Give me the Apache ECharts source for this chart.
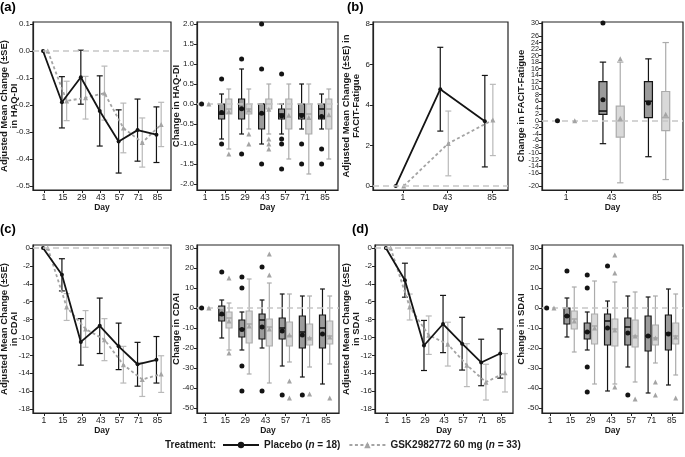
<!DOCTYPE html>
<html><head><meta charset="utf-8">
<script src="https://cdn.jsdelivr.net/npm/echarts@6/dist/echarts.min.js"></script>
<style>html,body{margin:0;padding:0;background:#fff}#c{width:685px;height:457px}</style>
</head><body><div id="c"></div>
<script>
// ---------- categories ----------
const days7 = ['1','15','29','43','57','71','85'];
const days3 = ['1','43','85'];

// ---------- tick labels ----------
const haqLineTicks = [0.1, 0, -0.1, -0.2, -0.3, -0.4, -0.5];
const haqBoxTicks = [2, 1.5, 1, 0.5, 0, -0.5, -1, -1.5, -2];
const facitLineTicks = [0, 2, 4, 6, 8];
const facitBoxTicks = [30,28,26,24,22,20,18,16,14,12,10,8,6,4,2,0,-2,-4,-6,-8,-10,-12,-14,-16,-18,-20];
const daiLineTicks = [0,-2,-4,-6,-8,-10,-12,-14,-16,-18];
const daiBoxTicks = [30,20,10,0,-10,-20,-30,-40,-50];

// ---------- (a) HAQ-DI ----------
const haqPlaceboMean = [0, -0.19, -0.097, -0.222, -0.335, -0.293, -0.31];
const haqPlaceboSE   = [0, 0.095, 0.10, 0.13, 0.117, 0.115, 0.103];
const haqGskMean     = [0, -0.185, -0.173, -0.156, -0.285, -0.339, -0.272];
const haqGskSE       = [0, 0.073, 0.079, 0.10, 0.092, 0.091, 0.082];
// box: [whiskerLow, Q1, median, Q3, whiskerHigh]
const haqBoxPlacebo = [null, [-0.875,-0.375,-0.25,0,0.25], [-0.75,-0.375,-0.125,0.125,0.875], [-1.0,-0.625,-0.25,0,0], [-0.75,-0.375,-0.25,-0.125,0], [-0.625,-0.375,-0.25,0,0.5], [-0.625,-0.375,-0.125,0,0.25]];
const haqBoxMeanPlacebo = [0, -0.21, -0.12, -0.23, -0.30, -0.29, -0.31];
const haqOutPlacebo = [[], [0.625,-1.0], [1.125,-1.25], [2.0,0.875,-1.5], [0.75,-0.875,-1.0,-1.625], [-1.0,-1.5], [-1.125,-1.5]];
const haqBoxGsk = [null, [-1.125,-0.25,-0.125,0.125,0.375], [-0.625,-0.25,-0.125,0,0.375], [-0.75,-0.125,0,0.125,0.5], [-1.375,-0.625,-0.125,0.125,0.5], [-1.75,-0.75,-0.25,0,0.5], [-1.375,-0.625,-0.125,0.125,0.375]];
const haqBoxMeanGsk = [0, -0.19, -0.15, -0.13, -0.28, -0.34, -0.27];
const haqOutGsk = [[], [-1.25], [-0.75,-1.0], [-0.875,-1.0,-1.125], [], [], []];

// ---------- (b) FACIT-Fatigue ----------
const facitPlaceboMean = [0, 4.78, 3.2];
const facitPlaceboSE   = [0, 2.07, 2.26];
const facitGskMean     = [0, 2.1, 3.26];
const facitGskSE       = [0, 1.6, 1.76];
const facitBoxPlacebo = [null, [-7,2,3,12,18], [-11,1,6,12,19]];
const facitBoxMeanPlacebo = [0, 6.5, 5.5];
const facitOutPlacebo = [[], [30], []];
const facitBoxGsk = [null, [-19,-5,0,4.5,18], [-18,-3,1,9,24]];
const facitBoxMeanGsk = [0, 0.8, 2];
const facitOutGsk = [[], [19], []];

// ---------- (c) CDAI ----------
const cdaiPlaceboMean = [0, -3.0, -10.5, -8.7, -11.0, -13.0, -12.5];
const cdaiPlaceboSE   = [0, 1.8, 2.6, 3.1, 2.6, 2.45, 2.6];
const cdaiGskMean     = [0, -6.6, -9.05, -10.25, -13.05, -14.7, -14.1];
const cdaiGskSE       = [0, 1.5, 2.05, 2.35, 2.05, 1.9, 2.05];
const cdaiBoxPlacebo = [null, [-15,-6.5,-3.5,1,4], [-21,-14.5,-10.5,-6,-2], [-20,-15.5,-6,-3,4], [-29,-15.5,-10,-5,7], [-34.5,-20,-12,-4,6], [-38,-20,-10,-3.5,9.5]];
const cdaiBoxMeanPlacebo = [0, -3, -10.8, -9.5, -11.5, -13.5, -13];
const cdaiOutPlacebo = [[], [18], [15.5,10,-29,-41.5], [20.5,-41.5], [-43.5], [-43.5], []];
const cdaiBoxGsk = [null, [-21,-10,-5,-2,2.5], [-33,-17.5,-8,-1.5,14.5], [-37.5,-19,-9.5,-5.5,12.5], [-27,-19,-14,-7,7], [-29.5,-18.5,-15,-8,6], [-28,-18,-14,-6.5,6]];
const cdaiBoxMeanGsk = [0, -6.5, -9, -10.5, -13.5, -15, -14.5];
const cdaiOutGsk = [[], [15,-22.5], [], [27,16.5], [-36.5,-45], [-43], [-45]];

// ---------- (d) SDAI ----------
const sdaiPlaceboMean = [0, -3.6, -10.9, -8.5, -10.7, -12.8, -11.8];
const sdaiPlaceboSE   = [0, 1.9, 2.8, 3.2, 2.95, 2.6, 2.75];
const sdaiGskMean     = [0, -6.6, -9.75, -10.75, -13.1, -15.0, -13.95];
const sdaiGskSE       = [0, 1.45, 2.15, 2.45, 2.4, 2.0, 2.15];
const sdaiBoxPlacebo = [null, [-14.5,-8,-4,0,5], [-21,-15.5,-12,-7.5,-2], [-41.5,-18.5,-6.5,-3,3.5], [-29.5,-18.5,-9.5,-5,6], [-42.5,-21.5,-14,-4,5.5], [-38.5,-21,-12.5,-3.5,9.5]];
const sdaiBoxMeanPlacebo = [0, -4, -12, -10, -12.5, -14, -13];
const sdaiOutPlacebo = [[], [18.5], [16.5,10,-29.5,-42], [21], [-43.5], [], []];
const sdaiBoxGsk = [null, [-22,-10.5,-5.5,-1.5,10.5], [-38,-18,-9,-3,13.5], [-38,-19,-10.5,-5.5,13], [-37,-19.5,-14,-6,8], [-27.5,-18.5,-15,-8.5,6], [-33.5,-18,-14,-7.5,7]];
const sdaiBoxMeanGsk = [0, -6.5, -10, -11, -14, -15, -14.5];
const sdaiOutGsk = [[], [], [], [26.5,17.5,-39.5], [-45.5], [-37,-43.5], [-45]];

// ---------- styling ----------
const FONT = "'Liberation Sans', Arial, Helvetica, sans-serif";
const TXT = '#1a1a1a';
const AX = '#222';
const P_COL = '#141414', G_COL = '#a4a4a4', G_BAR = '#b9b9b9';
const P_FILL = '#9b9b9b', G_FILL = '#d9d9d9', G_STROKE = '#ababab';
const REF = '#c6c6c6';

const panels = [
  {kind:'line', grid:{left:33,top:22,width:138,height:168}, cats:days7, xr:[-0.58,6.72], yr:[-0.5148,0.1074], yt:haqLineTicks, fmt:v=>v.toFixed(1), ys:8,
   name:'Adjusted Mean Change (±SE)\nin HAQ-DI', gap:14, pm:haqPlaceboMean, ps:haqPlaceboSE, gm:haqGskMean, gs:haqGskSE, off:[-0.05,0.2]},
  {kind:'box', grid:{left:197,top:22,width:141,height:168}, cats:days7, xr:[-0.4,6.65], yr:[-2.15,2.05], yt:haqBoxTicks, fmt:v=>v.toFixed(1), ys:8,
   name:'Change in HAQ-DI', gap:16, pb:haqBoxPlacebo, pmean:haqBoxMeanPlacebo, pout:haqOutPlacebo, gb:haqBoxGsk, gmean:haqBoxMeanGsk, gout:haqOutGsk, off:[-0.17,0.19], hw:3},
  {kind:'line', grid:{left:373,top:22,width:135,height:168}, cats:days3, xr:[-0.67,2.36], yr:[-0.2,8.1], yt:facitLineTicks, fmt:v=>String(v), ys:8,
   name:'Adjusted Mean Change (±SE) in\nFACIT-Fatigue', gap:12, pm:facitPlaceboMean, ps:facitPlaceboSE, gm:facitGskMean, gs:facitGskSE, off:[-0.16,0.02]},
  {kind:'box', grid:{left:542,top:22,width:141,height:168}, cats:days3, xr:[-0.53,2.57], yr:[-21.2,30.3], yt:facitBoxTicks, fmt:v=>String(v), ys:7.2,
   name:'Change in FACIT-Fatigue', gap:16, pb:facitBoxPlacebo, pmean:facitBoxMeanPlacebo, pout:facitOutPlacebo, gb:facitBoxGsk, gmean:facitBoxMeanGsk, gout:facitOutGsk, off:[-0.19,0.19], hw:4},
  {kind:'line', grid:{left:33,top:245,width:138,height:168}, cats:days7, xr:[-0.58,6.72], yr:[-18.45,0.335], yt:daiLineTicks, fmt:v=>String(v), ys:8,
   name:'Adjusted Mean Change (±SE)\nin CDAI', gap:14, pm:cdaiPlaceboMean, ps:cdaiPlaceboSE, gm:cdaiGskMean, gs:cdaiGskSE, off:[-0.05,0.2]},
  {kind:'box', grid:{left:197,top:245,width:142,height:168}, cats:days7, xr:[-0.4,6.65], yr:[-52.5,31.5], yt:daiBoxTicks, fmt:v=>String(v), ys:8,
   name:'Change in CDAI', gap:16, pb:cdaiBoxPlacebo, pmean:cdaiBoxMeanPlacebo, pout:cdaiOutPlacebo, gb:cdaiBoxGsk, gmean:cdaiBoxMeanGsk, gout:cdaiOutGsk, off:[-0.17,0.19], hw:3},
  {kind:'line', grid:{left:375,top:245,width:138,height:168}, cats:days7, xr:[-0.62,6.62], yr:[-18.45,0.335], yt:daiLineTicks, fmt:v=>String(v), ys:8,
   name:'Adjusted Mean Change (±SE)\nin SDAI', gap:14, pm:sdaiPlaceboMean, ps:sdaiPlaceboSE, gm:sdaiGskMean, gs:sdaiGskSE, off:[-0.05,0.2]},
  {kind:'box', grid:{left:542,top:245,width:141,height:168}, cats:days7, xr:[-0.4,6.55], yr:[-52.5,31.5], yt:daiBoxTicks, fmt:v=>String(v), ys:8,
   name:'Change in SDAI', gap:16, pb:sdaiBoxPlacebo, pmean:sdaiBoxMeanPlacebo, pout:sdaiOutPlacebo, gb:sdaiBoxGsk, gmean:sdaiBoxMeanGsk, gout:sdaiOutGsk, off:[-0.17,0.19], hw:3}
];

const refLine = {silent:true, symbol:['none','none'], label:{show:false},
  lineStyle:{color:REF, type:[6,4], width:1.5}, data:[{yAxis:0}]};

function errSeries(name, g, means, ses, off, color) {
  const data = [];
  means.forEach((m, i) => { if (ses[i] > 0) data.push([i + off, m - ses[i], m + ses[i]]); });
  return {type:'custom', name, xAxisIndex:g, yAxisIndex:g, z:2, silent:true,
    encode:{x:0, y:[1,2]}, data,
    renderItem:(params, api) => {
      const x = api.value(0);
      const a = api.coord([x, api.value(1)]), b = api.coord([x, api.value(2)]);
      const st = {stroke:color, lineWidth:1.2};
      const c = 3;
      return {type:'group', children:[
        {type:'line', shape:{x1:a[0],y1:a[1],x2:b[0],y2:b[1]}, style:st},
        {type:'line', shape:{x1:a[0]-c,y1:a[1],x2:a[0]+c,y2:a[1]}, style:st},
        {type:'line', shape:{x1:b[0]-c,y1:b[1],x2:b[0]+c,y2:b[1]}, style:st}
      ]};
    }};
}

function boxSeries(name, g, boxes, off, stroke, fill, hw) {
  const data = [];
  boxes.forEach((b, i) => { if (b) data.push([i + off].concat(b)); });
  return {type:'custom', name, xAxisIndex:g, yAxisIndex:g, z:2, silent:true,
    encode:{x:0, y:[1,2,3,4,5]}, data,
    renderItem:(params, api) => {
      const x = api.value(0);
      const p = [1,2,3,4,5].map(k => api.coord([x, api.value(k)]));
      const cx = p[0][0];
      const st = {stroke, lineWidth:1.2};
      const cap = hw * 0.8;
      return {type:'group', children:[
        {type:'line', shape:{x1:cx,y1:p[0][1],x2:cx,y2:p[1][1]}, style:st},
        {type:'line', shape:{x1:cx,y1:p[3][1],x2:cx,y2:p[4][1]}, style:st},
        {type:'line', shape:{x1:cx-cap,y1:p[0][1],x2:cx+cap,y2:p[0][1]}, style:st},
        {type:'line', shape:{x1:cx-cap,y1:p[4][1],x2:cx+cap,y2:p[4][1]}, style:st},
        {type:'rect', shape:{x:cx-hw, y:p[3][1], width:2*hw, height:p[1][1]-p[3][1]}, style:{fill, stroke, lineWidth:1.2}},
        {type:'line', shape:{x1:cx-hw,y1:p[2][1],x2:cx+hw,y2:p[2][1]}, style:{stroke, lineWidth:1.6}}
      ]};
    }};
}

function ptSeries(name, g, data, symbol, size, color, z, mark) {
  const s = {type:'scatter', name, xAxisIndex:g, yAxisIndex:g, data, symbol, symbolSize:size,
    itemStyle:{color, opacity:1}, z, silent:true};
  if (mark) s.markLine = refLine;
  return s;
}

const grids = [], xAxes = [], yAxes = [];
const lineSeries = [], otherSeries = [];

panels.forEach((p, g) => {
  grids.push(Object.assign({show:true, borderColor:AX, borderWidth:1.2, backgroundColor:'transparent', containLabel:false, outerBoundsMode:'none'}, p.grid));
  const xt = p.cats.map((c, i) => i);
  xAxes.push({type:'value', gridIndex:g, min:p.xr[0], max:p.xr[1],
    axisLine:{show:true, onZero:false, lineStyle:{color:AX, width:1.2}},
    axisTick:{show:true, length:3, customValues:xt, lineStyle:{color:AX, width:1}},
    axisLabel:{customValues:xt, formatter:v => p.cats[Math.round(v)], fontSize:8.5, color:TXT, fontFamily:FONT, margin:3,
      showMinLabel:true, showMaxLabel:true, hideOverlap:false},
    splitLine:{show:false},
    name:'Day', nameLocation:'middle', nameGap:13, nameMoveOverlap:false,
    nameTextStyle:{fontFamily:FONT, fontSize:8.5, fontWeight:'bold', color:TXT}});
  yAxes.push({type:'value', gridIndex:g, min:p.yr[0], max:p.yr[1],
    axisLine:{show:true, onZero:false, lineStyle:{color:AX, width:1.2}},
    axisTick:{show:true, length:3, customValues:p.yt, lineStyle:{color:AX, width:1}},
    axisLabel:{customValues:p.yt, formatter:p.fmt, fontSize:p.ys, lineHeight:p.ys, color:TXT, fontFamily:FONT, margin:3,
      hideOverlap:false, showMinLabel:true, showMaxLabel:true},
    splitLine:{show:false},
    name:p.name, nameLocation:'middle', nameRotate:90, nameGap:p.gap, nameMoveOverlap:false,
    nameTextStyle:{fontFamily:FONT, fontSize:9.5, lineHeight:9.5, fontWeight:'bold', color:TXT, align:'center'}});

  if (p.kind === 'line') {
    lineSeries.push({type:'line', name:'Placebo', xAxisIndex:g, yAxisIndex:g, z:4,
      data:p.pm.map((m, i) => [i + p.off[0], m]),
      symbol:'circle', symbolSize:4, showSymbol:true, itemStyle:{color:P_COL},
      lineStyle:{color:P_COL, width:1.8}, silent:true, animation:false});
    lineSeries.push({type:'line', name:'GSK2982772 60 mg', xAxisIndex:g, yAxisIndex:g, z:3,
      data:p.gm.map((m, i) => [i + p.off[1], m]),
      symbol:'triangle', symbolSize:5, showSymbol:true, itemStyle:{color:G_COL},
      lineStyle:{color:G_COL, width:1.8, type:[3,2.5]}, silent:true, animation:false,
      markLine:refLine});
    otherSeries.push(errSeries('Placebo SE', g, p.pm, p.ps, p.off[0], P_COL));
    otherSeries.push(errSeries('GSK SE', g, p.gm, p.gs, p.off[1], G_BAR));
  } else {
    otherSeries.push(boxSeries('Placebo box', g, p.pb, p.off[0], P_COL, P_FILL, p.hw));
    otherSeries.push(boxSeries('GSK box', g, p.gb, p.off[1], G_STROKE, G_FILL, p.hw));
    otherSeries.push(ptSeries('Placebo mean', g, p.pmean.map((m, i) => [i + p.off[0], m]), 'circle', 5, P_COL, 5, true));
    otherSeries.push(ptSeries('GSK mean', g, p.gmean.map((m, i) => [i + p.off[1], m]), 'triangle', 5, G_COL, 5, false));
    const po = [], go = [];
    p.pout.forEach((arr, i) => arr.forEach(v => po.push([i + p.off[0], v])));
    p.gout.forEach((arr, i) => arr.forEach(v => go.push([i + p.off[1], v])));
    otherSeries.push(ptSeries('Placebo outlier', g, po, 'circle', 5, P_COL, 5, false));
    otherSeries.push(ptSeries('GSK outlier', g, go, 'triangle', 5, G_COL, 5, false));
  }
});

const letterStyle = {fontFamily:FONT, fontSize:13, fontWeight:'bold', fill:'#000'};
const chart = echarts.init(document.getElementById('c'), null, {renderer:'canvas'});
chart.setOption({
  animation:false,
  backgroundColor:'#fff',
  grid:grids, xAxis:xAxes, yAxis:yAxes,
  series:lineSeries.concat(otherSeries),
  legend:{left:222, top:440, padding:0, itemWidth:36, itemHeight:8, itemGap:8, selectedMode:false,
    data:['Placebo','GSK2982772 60 mg'],
    formatter:n => n === 'Placebo' ? 'Placebo ({i|n} = 18)' : 'GSK2982772 60 mg ({i|n} = 33)',
    textStyle:{fontFamily:FONT, fontSize:10, fontWeight:'bold', color:TXT,
      rich:{i:{fontFamily:FONT, fontSize:10, fontWeight:'bold', fontStyle:'italic', color:TXT}}}},
  graphic:[
    {type:'text', left:0, top:1, style:Object.assign({text:'(a)'}, letterStyle)},
    {type:'text', left:347, top:1, style:Object.assign({text:'(b)'}, letterStyle)},
    {type:'text', left:0, top:223, style:Object.assign({text:'(c)'}, letterStyle)},
    {type:'text', left:352, top:223, style:Object.assign({text:'(d)'}, letterStyle)},
    {type:'text', left:165, top:440, style:{text:'Treatment:', fontFamily:FONT, fontSize:10, fontWeight:'bold', fill:TXT}}
  ]
});
</script></body></html>
